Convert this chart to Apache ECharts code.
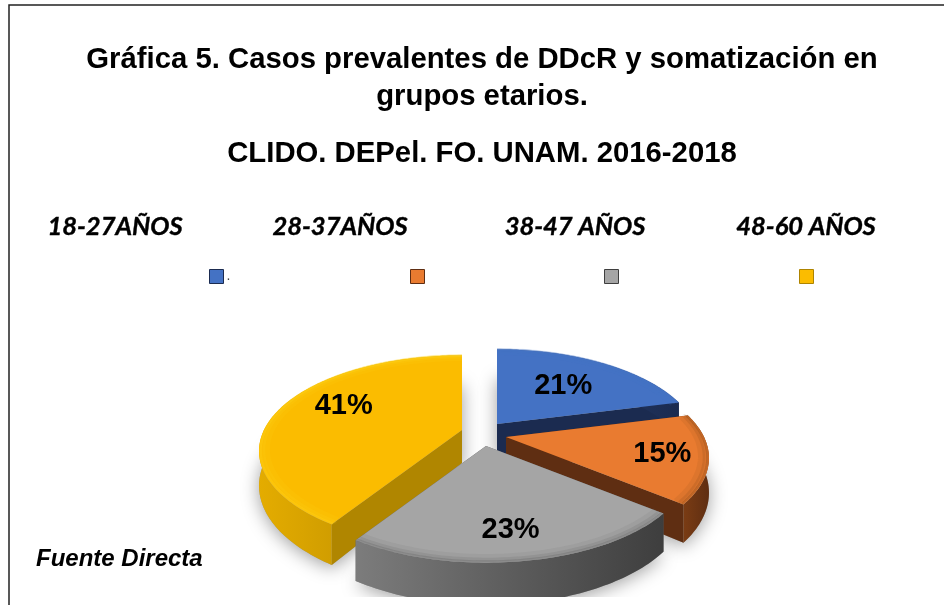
<!DOCTYPE html>
<html><head><meta charset="utf-8">
<script src="https://cdn.jsdelivr.net/npm/echarts@6/dist/echarts.min.js"></script>
<style>html,body{margin:0;padding:0;background:#fff}#c{width:944px;height:605px}</style>
</head><body><div id="c"></div>
<script>
const categories = ['18-27AÑOS','28-37AÑOS','38-47 AÑOS','48-60 AÑOS'];
const shares = [21,15,23,41];
const titleLines = ['Gráfica 5. Casos prevalentes de DDcR y somatización en','grupos etarios.','CLIDO. DEPel. FO. UNAM. 2016-2018'];
const source = 'Fuente Directa';
const topColors = ['#4472C4','#E97B30','#A5A5A5','#FBBC00'];
const cutColors = ['#1B2B50','#5F2E12','#5A5A5A','#B08600'];
const wallLeft = ['#2B4478','#7A3C14','#7C7C7C','#E4AC00'];
const wallRight = ['#1B2B50','#5F2E12','#3E3E3E','#AE8400'];
const rimColors = ['#4472C4','#8A4A18','#6A6A6A','#FFD21A'];
const apexes = [[497,424],[506,437],[486,446],[462,430]];
const labelFactors = [[.64,.62],[.77,.8],[.62,.73],[.66,1.0]];
const legendLefts = [209,410,604,799];
const catCentres = [115,340,575,806];
const RX = 198, RY = 91, K = .22, DEPTH = 33;

function proj(apex, th, f){
  const u = Math.sin(th), v = -Math.cos(th);
  const s = 1/(1 - K*v*f);
  return {x: apex[0]+RX*u*s*f, y: apex[1]+RY*v*s*f, d: DEPTH*s};
}
function arcPts(apex,a0,a1,f){
  const n = Math.max(2,Math.ceil((a1-a0)/0.02)), p=[];
  for(let i=0;i<=n;i++){ p.push(proj(apex,a0+(a1-a0)*i/n,f===undefined?1:f)); }
  return p;
}
function range(i){
  const tot = shares.reduce((a,b)=>a+b,0);
  let c=0; for(let k=0;k<i;k++) c+=shares[k];
  return [c/tot*2*Math.PI,(c+shares[i])/tot*2*Math.PI];
}
function wedge(i,extra){
  const [a0,a1]=range(i), ap=apexes[i];
  const pts=arcPts(ap,a0,a1).map(p=>[p.x,p.y+(extra?p.d:0)]);
  return [[ap[0],ap[1]+(extra?DEPTH:0)]].concat(pts);
}
function renderSlice(i){
  return function(params,api){
    const val = api.value(0);
    const [a0,a1]=range(i), ap=apexes[i];
    const arc=arcPts(ap,a0,a1);
    const kids=[];
    const first=arc[0], last=arc[arc.length-1];
    const cut=(p)=>({type:'polygon',shape:{points:[[ap[0],ap[1]],[p.x,p.y],[p.x,p.y+p.d],[ap[0],ap[1]+DEPTH]]},style:{fill:cutColors[i]}});
    kids.push(cut(first),cut(last));
    const upper=arc.map(p=>[p.x,p.y]);
    const lower=arc.map(p=>[p.x,p.y+p.d]).reverse();
    kids.push({type:'polygon',shape:{points:upper.concat(lower)},style:{fill:new echarts.graphic.LinearGradient(0,0,1,0,[{offset:0,color:wallLeft[i]},{offset:1,color:wallRight[i]}])}});
    kids.push({type:'polygon',shape:{points:wedge(i,false)},style:{fill:topColors[i]}});
    [[.965,.12,7],[.98,.2,4],[.993,.4,2.5]].forEach(function(r){
      kids.push({type:'polyline',shape:{points:arcPts(ap,a0,a1,r[0]).map(p=>[p.x,p.y])},style:{fill:null,stroke:rimColors[i],lineWidth:r[2],opacity:r[1]}});
    });
    const mid=(a0+a1)/2, lf=labelFactors[i];
    const m=proj(ap,mid,1);
    kids.push({type:'text',x:ap[0]+(m.x-ap[0])*lf[0],y:ap[1]+(m.y-ap[1])*lf[1],style:{text:val+'%',fill:'#000',font:'bold 29px "Liberation Sans"',align:'center',verticalAlign:'middle'}});
    return {type:'group',children:kids};
  };
}
function renderShadow(params,api){
  return {type:'polygon',shape:{points:wedge(params.dataIndex,true)},style:{fill:'#999',shadowBlur:18,shadowColor:'rgba(0,0,0,.38)',shadowOffsetY:3}};
}
const series=[{type:'custom',name:'sombra',coordinateSystem:'none',silent:true,z:1,renderItem:renderShadow,data:shares.map(v=>[v])}];
[0,3,1,2].forEach(function(i,o){
  series.push({type:'custom',name:categories[i],coordinateSystem:'none',z:2+o,silent:true,
    color:topColors[i],itemStyle:{color:topColors[i]},renderItem:renderSlice(i),data:[[shares[i]]]});
});
const tStyle={fontFamily:'"Liberation Sans"',fontWeight:'bold',fontSize:29.3,color:'#000'};
const title=[
 {text:titleLines[0],left:482,top:45,padding:0,textAlign:'center',textStyle:tStyle},
 {text:titleLines[1],left:482,top:82,padding:0,textAlign:'center',textStyle:tStyle},
 {text:titleLines[2],left:482,top:139,padding:0,textAlign:'center',textStyle:tStyle},
 {text:source,left:36,top:547,padding:0,textStyle:{fontFamily:'"Liberation Sans"',fontWeight:'bold',fontStyle:'italic',fontSize:24,color:'#000'}}
].concat(categories.map(function(c,i){return {text:c,left:catCentres[i],top:214,padding:0,textAlign:'center',
  textStyle:{fontFamily:'Lato',fontWeight:'bold',fontStyle:'italic',fontSize:25.5,color:'#000',textBorderColor:'#000',textBorderWidth:.4}};}));
const legend=categories.map(function(c,i){return {data:[c],left:legendLefts[i],top:269,padding:0,itemWidth:14,itemHeight:14,icon:'rect',selectedMode:false,
  itemGap:0,formatter:function(){return i===0?'.':'';},
  textStyle:{fontSize:14,color:'#444',padding:[0,0,0,-2]},
  itemStyle:{borderColor:wallRight[i],borderWidth:1}};});
const chart=echarts.init(document.getElementById('c'),null,{renderer:'canvas'});
chart.setOption({animation:false,backgroundColor:'#fff',title:title,legend:legend,tooltip:{show:false},series:series,
 graphic:[
  {type:'rect',silent:true,z:50,shape:{x:11,y:597,width:933,height:8},style:{fill:'#fff'}},
  {type:'polyline',silent:true,z:51,shape:{points:[[9,605],[9,5],[944,5]]},style:{fill:null,stroke:'#222',lineWidth:1.5}}
 ]});
</script></body></html>
